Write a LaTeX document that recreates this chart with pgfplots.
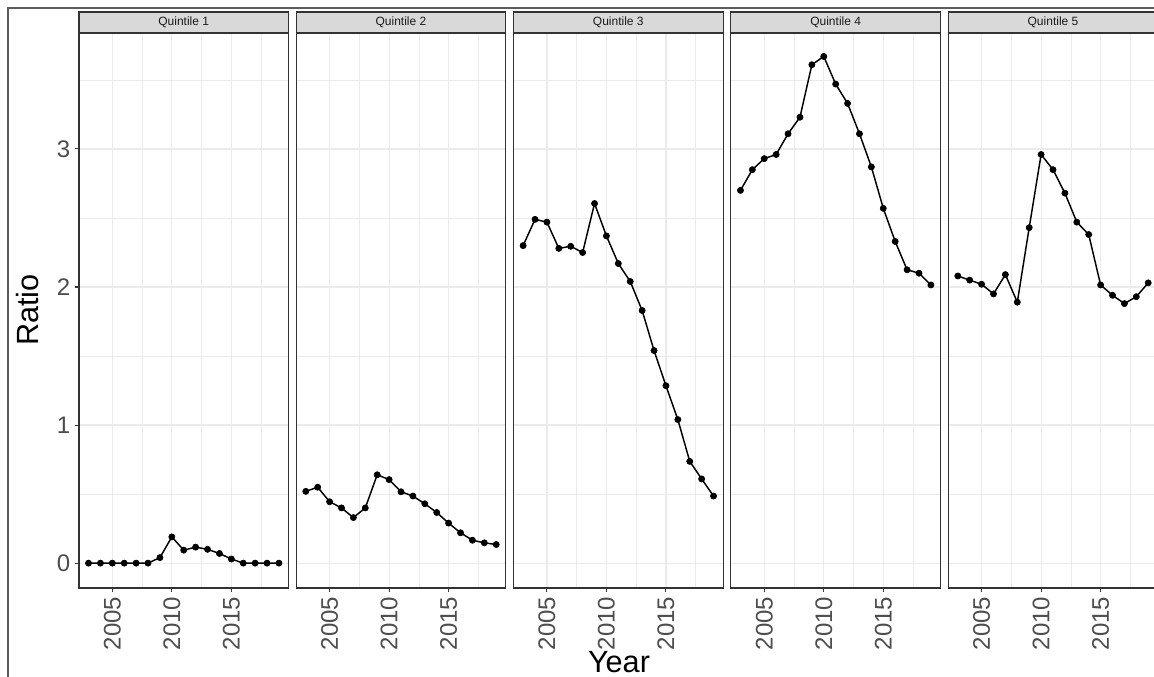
\documentclass[border=0pt]{standalone}
\usepackage{pgfplots}
\pgfplotsset{compat=1.18}
\usepackage{pgfplotstable}
\usepackage{fontspec}
\setmainfont{Liberation Sans}
\definecolor{gtwenty}{HTML}{333333}
\definecolor{gthirty}{HTML}{4D4D4D}
\definecolor{gridc}{HTML}{EBEBEB}
\definecolor{stripc}{HTML}{D9D9D9}
\definecolor{gten}{HTML}{1A1A1A}

\pgfplotstableread{
year q1 q2 q3 q4 q5
2003 0.00 0.52 2.30 2.70 2.08
2004 0.00 0.55 2.49 2.85 2.05
2005 0.00 0.445 2.47 2.93 2.02
2006 0.00 0.40 2.28 2.96 1.95
2007 0.00 0.33 2.295 3.11 2.09
2008 0.00 0.40 2.25 3.23 1.89
2009 0.04 0.64 2.605 3.61 2.43
2010 0.19 0.605 2.37 3.67 2.96
2011 0.094 0.517 2.17 3.47 2.85
2012 0.116 0.486 2.04 3.33 2.68
2013 0.10 0.43 1.83 3.11 2.47
2014 0.07 0.367 1.54 2.87 2.38
2015 0.03 0.29 1.285 2.57 2.015
2016 0.00 0.22 1.04 2.33 1.94
2017 0.00 0.166 0.737 2.125 1.88
2018 0.00 0.147 0.61 2.10 1.93
2019 0.00 0.135 0.486 2.015 2.03
}\datatable

\pgfplotsset{
  facet/.style={
    scale only axis, width=157.1pt, height=416.25pt, anchor=south west,
    xmin=2002.2, xmax=2019.8, ymin=-0.18, ymax=3.84,
    xtick={2005,2010,2015}, xticklabels={2005,2010,2015},
    minor xtick={2007.5,2012.5,2017.5},
    ytick={0,1,2,3}, minor ytick={0.5,1.5,2.5,3.5},
    grid=both,
    major grid style={draw=gridc, line width=0.9pt},
    minor grid style={draw=gridc, line width=0.5pt},
    tick align=outside, major tick length=3pt, minor tick length=0pt,
    xtick pos=left, ytick pos=left,
    axis line style={gtwenty, line width=0.8pt},
    tick style={gtwenty, line width=0.8pt},
    xticklabel style={rotate=90, anchor=east, font=\fontsize{18}{18}\selectfont, text=gthirty},
    yticklabel style={font=\fontsize{18}{18}\selectfont, text=gthirty},
  },
  inner/.style={yticklabels={}, ytick style={draw=none}},
  ser/.style={black, line width=1.1pt, mark=*, mark size=2.3pt, mark options={solid, fill=black, line width=0.5pt}},
}

\begin{document}
\begin{tikzpicture}
\useasboundingbox (0,0) rectangle (865.5pt,507.75pt);
\draw[gtwenty!80, line width=0.8pt] (6pt,0pt) -- (6pt,501.75pt) -- (866pt,501.75pt);

\begin{axis}[facet, at={(59.25pt,66.75pt)}, yticklabels={0,1,2,3}]
\addplot[ser] table[x=year, y=q1] {\datatable};
\end{axis}
\begin{axis}[facet, inner, at={(222.2pt,66.75pt)}]
\addplot[ser] table[x=year, y=q2] {\datatable};
\end{axis}
\begin{axis}[facet, inner, at={(385.2pt,66.75pt)}]
\addplot[ser] table[x=year, y=q3] {\datatable};
\end{axis}
\begin{axis}[facet, inner, at={(548.2pt,66.75pt)}]
\addplot[ser] table[x=year, y=q4] {\datatable};
\end{axis}
\begin{axis}[facet, inner, at={(711.2pt,66.75pt)}]
\addplot[ser] table[x=year, y=q5] {\datatable};
\end{axis}

\foreach \L/\n in {59.25/1, 222.2/2, 385.2/3, 548.2/4, 711.2/5}{
  \draw[gtwenty, fill=stripc, line width=0.8pt] (\L pt,483pt) rectangle ({\L pt+157.1pt},498.75pt);
  \node[text=gten, font=\fontsize{9}{9}\selectfont] at ({\L pt+78.55pt},490.9pt) {Quintile \n};
}

\node[rotate=90, anchor=base, font=\fontsize{23}{23}\selectfont] at (28.5pt,275.25pt) {Ratio};
\node[anchor=base, inner sep=0pt, font=\fontsize{23}{23}\selectfont] at (464.25pt,3.3pt) {Year};
\end{tikzpicture}
\end{document}
